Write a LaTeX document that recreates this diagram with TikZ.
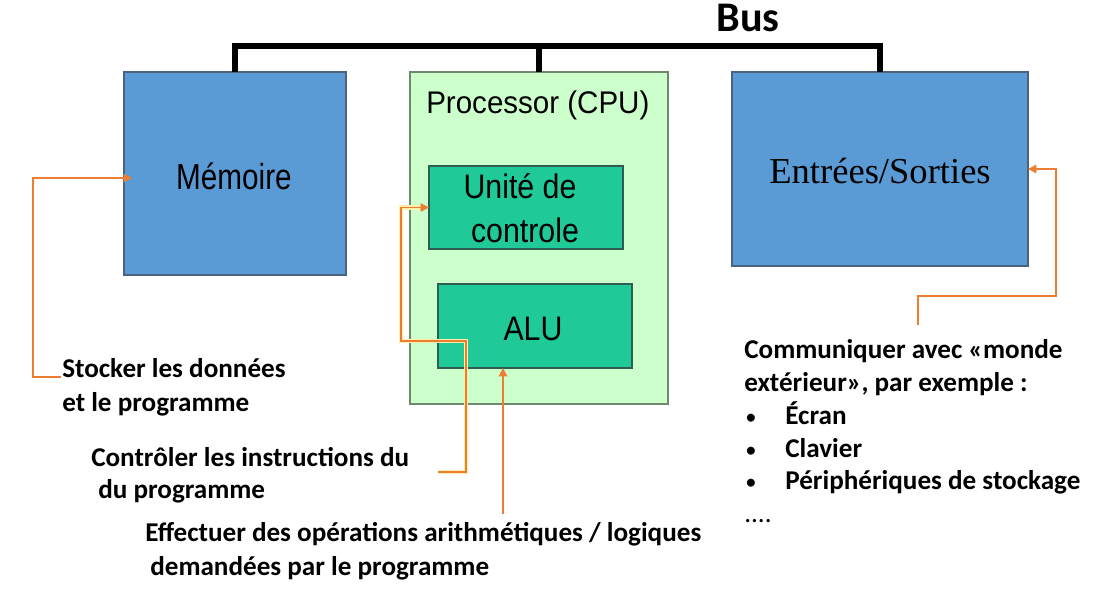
\documentclass[tikz,border=0pt]{standalone}
\usepackage{fontspec}
\usepackage{graphicx}
\setmainfont{Carlito}
\newfontfamily\arialf{Liberation Sans}
\newfontfamily\timesf{Liberation Serif}
\usetikzlibrary{arrows.meta,calc}
\definecolor{boxblue}{HTML}{5B9BD5}
\definecolor{boxblueline}{HTML}{4A6480}
\definecolor{cpufill}{HTML}{CCFFCC}
\definecolor{cpuline}{HTML}{6E8A6E}
\definecolor{unitfill}{HTML}{20CA98}
\definecolor{unitline}{HTML}{2E5E50}
\definecolor{conncol}{HTML}{ED7D31}
\definecolor{glowcol}{HTML}{FFEFA8}
\begin{document}
\begin{tikzpicture}[x=0.025cm,y=-0.025cm,
  bluebox/.style={draw=boxblueline,fill=boxblue,line width=0.9pt,inner sep=0,outer sep=0},
  cpubox/.style={draw=cpuline,fill=cpufill,line width=0.8pt,inner sep=0,outer sep=0},
  unitbox/.style={draw=unitline,fill=unitfill,line width=0.9pt,inner sep=0,outer sep=0},
  bustrace/.style={line width=3.6pt,draw=black,line join=miter},
  conn/.style={draw=conncol,line width=1.3pt,-{Triangle[length=6pt,width=6pt]}},
  glow/.style={draw=glowcol,line width=3.2pt},
  lbl/.style={font=\fontsize{19.3}{24}\selectfont\bfseries,anchor=base west,inner sep=0},
  bul/.style={font=\fontsize{16}{24}\selectfont,anchor=base west,inner sep=0},
  boxtxt/.style={font=\arialf\fontsize{22}{26}\selectfont,anchor=base,inner sep=0}
]
\useasboundingbox (0,0) rectangle (1116,608);

% boxes
\node[bluebox,minimum width=5.55cm,minimum height=5.075cm] (mem) at (235,173.5) {};
\node[cpubox,minimum width=6.45cm,minimum height=8.3cm] (cpu) at (539,238) {};
\node[unitbox,minimum width=4.85cm,minimum height=2.075cm] (cu) at (526,207.5) {};
\node[unitbox,minimum width=4.85cm,minimum height=2.1cm] (alu) at (535,326) {};
\node[bluebox,minimum width=7.4cm,minimum height=4.85cm] (io) at (880,169) {};

% box texts
\node[boxtxt] (memtxt) at (234,189) {\scalebox{0.96}[1.17]{Mémoire}};
\node[boxtxt,anchor=base west,font=\arialf\fontsize{21}{26}\selectfont] (cputxt) at (426,113) {\scalebox{1}[1.06]{Processor (CPU)}};
\node[boxtxt] (cutxt1) at (520,198) {\scalebox{0.98}[1.1]{Unité de}};
\node[boxtxt] (cutxt2) at (525,242) {\scalebox{0.98}[1.1]{controle}};
\node[boxtxt] (alutxt) at (533,340) {\scalebox{0.98}[1.1]{ALU}};
\node[boxtxt,font=\timesf\fontsize{26}{30}\selectfont] (iotxt) at (880,183) {Entrées/Sorties};

% bus
\node[font=\fontsize{30}{34}\selectfont\bfseries,anchor=base,inner sep=0] (bus) at (748,31) {Bus};
\draw[bustrace] (mem.north) -- ++(0,-26) -| (io.north);
\draw[bustrace] (cpu.north) -- ++(0,-26);

% labels
\node[lbl] (l1a) at (62,377) {Stocker les données};
\node[lbl] (l1b) at (62,411) {et le programme};
\node[lbl] (l2a) at (91,466) {Contrôler les instructions du};
\node[lbl] (l2b) at (98,498) {du programme};
\node[lbl] (l3a) at (145,541) {Effectuer des opérations arithmétiques / logiques};
\node[lbl] (l3b) at (150,575) {demandées par le programme};
\node[lbl] (l4a) at (744,358) {Communiquer avec «monde};
\node[lbl] (l4b) at (744,391) {extérieur», par exemple :};
\node[bul] (b1) at (745,424) {•};
\node[lbl] (l4c) at (785,424) {Écran};
\node[bul] (b2) at (745,457) {•};
\node[lbl] (l4d) at (785,457) {Clavier};
\node[bul] (b3) at (745,489) {•};
\node[lbl] (l4e) at (785,489) {Périphériques de stockage};
\node[lbl,font=\fontsize{19.3}{24}\selectfont] (l4f) at (744,522) {....};

% connectors
\coordinate (s1) at (61,377);
\draw[conn] (s1) -| (33,178) -- ($(mem.west |- 0,178)+(8,0)$);

\coordinate (s2) at (438,472);
\draw[glow] (s2) -- (466,472) -- (466,341) -- (401,341) -- (401,207.5) -- ($(cu.west)+(-6,0)$);
\draw[conn] (s2) -- (466,472) -- (466,341) -- (401,341) -- (401,207.5) -- (cu.west);

\coordinate (s3) at (503,514);
\draw[conn] (s3) -- (alu.south -| s3);

\coordinate (s4) at (918,325);
\draw[conn] (s4) -- (918,296) -| (1056,169) -- (io.east);
\end{tikzpicture}
\end{document}
